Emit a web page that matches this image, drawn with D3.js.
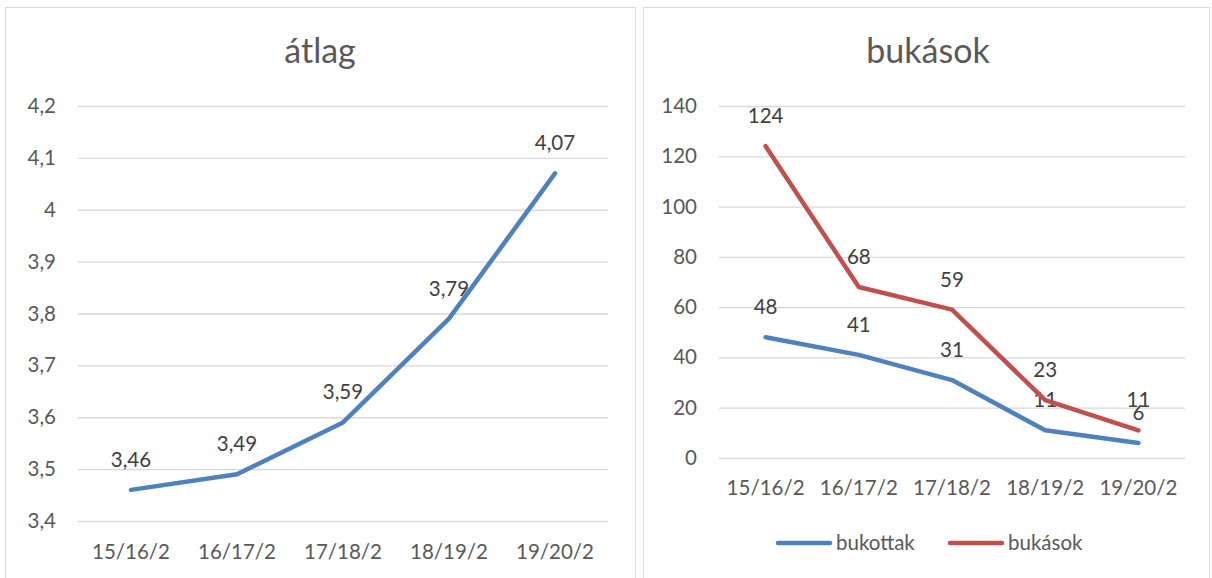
<!DOCTYPE html>
<html><head><meta charset="utf-8">
<script src="https://cdn.jsdelivr.net/npm/d3@7"></script>
<style>body{margin:0;background:#fff}svg{display:block}</style>
</head><body>
<svg id="c" width="1212" height="578"></svg>
<script>
const categories = ["15/16/2","16/17/2","17/18/2","18/19/2","19/20/2"];
const atlag = [3.46, 3.49, 3.59, 3.79, 4.07];
const atlagTicks = [3.4,3.5,3.6,3.7,3.8,3.9,4.0,4.1,4.2];
const bukottak = [48, 41, 31, 11, 6];
const bukasok = [124, 68, 59, 23, 11];
const bukTicks = [0,20,40,60,80,100,120,140];
const seriesNames = ["bukottak","bukások"];

const svg = d3.select("#c");
const FONT = "Lato, 'Open Sans', sans-serif";
const TXT = "#595959", GRID = "#d9d9d9", BLUE = "#4f81bd", RED = "#c0504d";
const FS = 20.5;
const fmt = v => String(+v.toFixed(2)).replace(".", ",");

// panel borders
svg.append("rect").attr("x",5.5).attr("y",7.5).attr("width",630).attr("height",580)
  .attr("fill","none").attr("stroke","#d9d9d9");
svg.append("rect").attr("x",643.5).attr("y",7.5).attr("width",566).attr("height",580)
  .attr("fill","none").attr("stroke","#d9d9d9");

function panel(o){
  const g = svg.append("g");
  const x = d3.scaleBand().domain(categories).range([o.x0,o.x1]);
  const y = d3.scaleLinear().domain(o.domain).range([o.y1,o.y0]);
  g.append("text").attr("x",o.tx).attr("y",63).attr("text-anchor","middle")
    .attr("font-family",FONT).attr("font-size",34).attr("fill",TXT).text(o.title);
  const ya = g.append("g").attr("transform",`translate(${o.x0},0)`)
    .call(d3.axisLeft(y).tickValues(o.ticks).tickSize(-(o.x1-o.x0)).tickPadding(o.pad).tickFormat(o.tf));
  ya.select(".domain").remove();
  ya.selectAll("line").attr("stroke",GRID).attr("stroke-width",1.3);
  ya.selectAll("text").attr("font-family",FONT).attr("font-size",FS).attr("fill",TXT);
  const xa = g.append("g").attr("transform",`translate(0,${o.y1})`)
    .call(d3.axisBottom(x).tickSize(0).tickPadding(o.xpad));
  xa.select(".domain").remove();
  xa.selectAll("text").attr("font-family",FONT).attr("font-size",FS).attr("fill",TXT);
  o.series.forEach(s=>{
    const line = d3.line().x((d,i)=>x(categories[i])+x.bandwidth()/2).y(d=>y(d));
    g.append("path").datum(s.values).attr("d",line).attr("fill","none")
      .attr("stroke",s.color).attr("stroke-width",4.5).attr("stroke-linejoin","round").attr("stroke-linecap","round");
    g.selectAll(null).data(s.values).enter().append("text")
      .attr("x",(d,i)=>x(categories[i])+x.bandwidth()/2).attr("y",d=>y(d)-23)
      .attr("text-anchor","middle").attr("font-family",FONT).attr("font-size",FS).attr("fill","#404040")
      .text(d=>fmt(d));
  });
  return {x,y};
}

panel({x0:78,x1:608,y0:106,y1:521,domain:[3.4,4.2],ticks:atlagTicks,tf:fmt,pad:22,xpad:23,
  tx:320,title:"átlag",series:[{values:atlag,color:BLUE}]});
panel({x0:719,x1:1185,y0:106,y1:458,domain:[0,140],ticks:bukTicks,tf:d=>d,pad:22,xpad:22,
  tx:928,title:"bukások",series:[{values:bukottak,color:BLUE},{values:bukasok,color:RED}]});

// legend
const leg = [{name:seriesNames[0],color:BLUE,x:778},{name:seriesNames[1],color:RED,x:950}];
leg.forEach(l=>{
  svg.append("line").attr("x1",l.x).attr("x2",l.x+52).attr("y1",543).attr("y2",543)
    .attr("stroke",l.color).attr("stroke-width",4.5).attr("stroke-linecap","round");
  svg.append("text").attr("x",l.x+58).attr("y",550).attr("font-family",FONT).attr("font-size",FS)
    .attr("fill",TXT).text(l.name);
});
</script>
</body></html>
